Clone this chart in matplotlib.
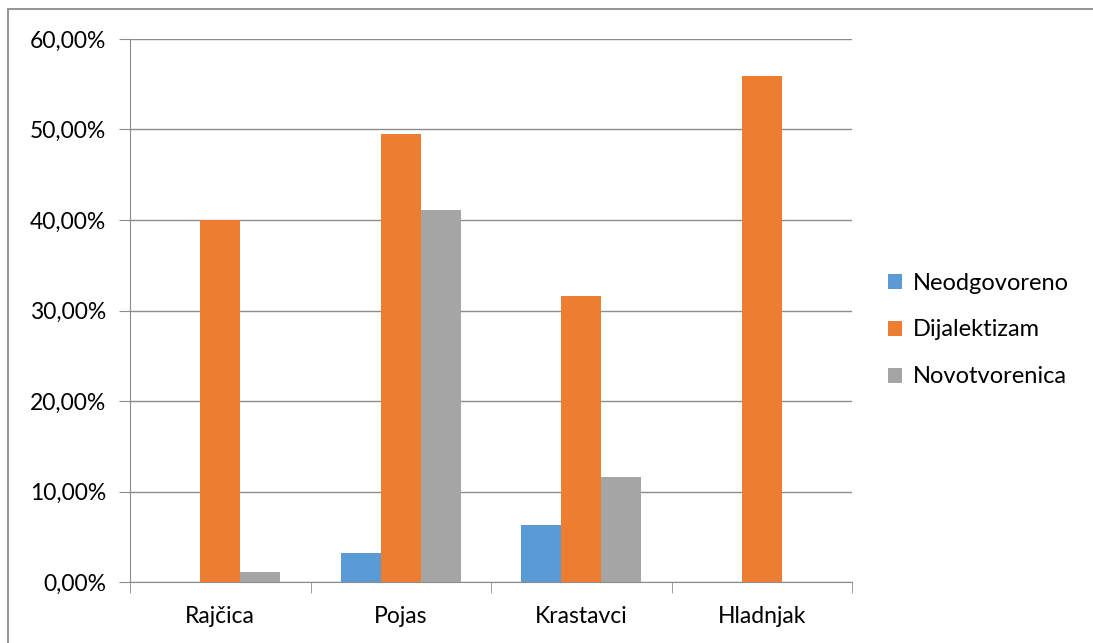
import matplotlib.pyplot as plt
from matplotlib.patches import Rectangle
from matplotlib.ticker import FuncFormatter, MultipleLocator
import numpy as np

# data
categories = ["Rajčica", "Pojas", "Krastavci", "Hladnjak"]
series_names = ["Neodgovoreno", "Dijalektizam", "Novotvorenica"]
neodgovoreno = [0.0, 3.2, 6.3, 0.0]
dijalektizam = [40.0, 49.5, 31.6, 55.9]
novotvorenica = [1.1, 41.1, 11.6, 0.0]
colors = ["#5B9BD5", "#ED7D31", "#A5A5A5"]

plt.rcParams['font.family'] = ['Lato', 'DejaVu Sans']

W, H = 1093, 643
fig = plt.figure(figsize=(W / 100, H / 100), dpi=100)
ax = fig.add_axes([130 / W, (H - 582) / H, (852 - 130) / W, (582 - 39) / H])

# outer chart border (only left/top visible in reference)
fig.patches.append(Rectangle((8 / W, -0.01), 1.1, (H - 9) / H + 0.01,
                             transform=fig.transFigure, fill=False,
                             edgecolor="#8c8c8c", lw=1.3))

x = np.arange(len(categories))
bw = 40 / 180.5
for i, (vals, name) in enumerate(zip([neodgovoreno, dijalektizam, novotvorenica], series_names)):
    ax.bar(x + (i - 1) * bw, vals, bw, color=colors[i], label=name, zorder=3)

ax.set_xlim(-0.5, len(categories) - 0.5)
ax.set_ylim(0, 60)
ax.yaxis.set_major_locator(MultipleLocator(10))
ax.yaxis.set_major_formatter(FuncFormatter(lambda v, p: f"{v:.2f}%".replace(".", ",")))
ax.grid(axis="y", color="#8c8c8c", lw=1.0, zorder=0)

for s in ["top", "right"]:
    ax.spines[s].set_visible(False)
ax.spines["left"].set_color("#8c8c8c")
ax.spines["bottom"].set_color("#8c8c8c")

ax.set_xticks(x)
ax.set_xticklabels(categories)
ax.set_xticks(np.arange(len(categories) + 1) - 0.5, minor=True)
ax.tick_params(axis="x", which="major", length=0, pad=17, labelsize=16.5)
ax.tick_params(axis="x", which="minor", length=8, color="#8c8c8c")
ax.tick_params(axis="y", length=8, color="#8c8c8c", pad=9, labelsize=16.5)

ax.legend(loc="center left", bbox_to_anchor=(888 / W, (H - 330) / H),
          bbox_transform=fig.transFigure, frameon=False, fontsize=17,
          handlelength=0.6, handleheight=0.6, handletextpad=0.45, labelspacing=1.1,
          borderpad=0, borderaxespad=0)

fig.savefig("out.png", dpi=100)
